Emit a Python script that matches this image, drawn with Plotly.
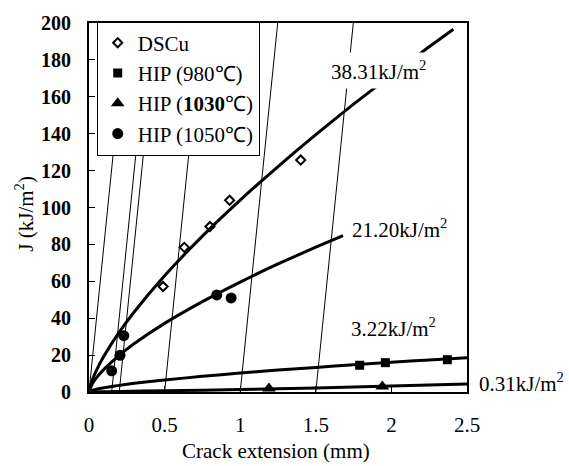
import plotly.graph_objects as go

# ---------------- data ----------------
dscu_x = [0.49, 0.63, 0.80, 0.93, 1.40]
dscu_y = [57.2, 78.4, 89.7, 103.9, 125.7]

hip980_x = [1.79, 1.96, 2.37]
hip980_y = [14.5, 15.9, 17.5]

hip1030_x = [1.19, 1.94]
hip1030_y = [1.9, 3.0]

hip1050_x = [0.15, 0.205, 0.23, 0.845, 0.94]
hip1050_y = [11.5, 19.9, 30.5, 52.6, 51.0]

# fitted R-curves
dscu_curve_x = [0, 0.02, 0.05, 0.1, 0.2, 0.3, 0.5, 0.75, 1.0, 1.25, 1.5, 1.75, 2.0, 2.25, 2.41]
dscu_curve_y = [0, 6.1, 11.9, 19.6, 32.4, 43.5, 63.0, 84.5, 104.0, 122.2, 139.5, 156.0, 171.8, 187.1, 196.6]

hip1050_curve_x = [0, 0.02, 0.05, 0.1, 0.2, 0.3, 0.5, 0.75, 1.0, 1.25, 1.5, 1.68]
hip1050_curve_y = [0, 4.2, 7.8, 12.4, 19.9, 26.3, 37.2, 49.0, 59.6, 69.4, 78.5, 84.8]

hip980_curve_x = [0, 0.02, 0.05, 0.1, 0.2, 0.3, 0.5, 0.75, 1.0, 1.25, 1.5, 1.75, 2.0, 2.25, 2.5]
hip980_curve_y = [0, 0.8, 1.5, 2.3, 3.6, 4.7, 6.5, 8.5, 10.3, 11.9, 13.3, 14.8, 16.1, 17.4, 18.6]

hip1030_curve_x = [0, 0.2, 0.5, 1.0, 1.5, 2.0, 2.5]
hip1030_curve_y = [0, 0.3, 0.7, 1.3, 2.2, 3.3, 4.4]

# blunting / offset lines: start on the axis (J=0) and end at J=200
blunt_start_x = [0, 0.15, 0.2, 0.5, 1.0, 1.5]
blunt_end_x = [0.248, 0.398, 0.448, 0.748, 1.248, 1.748]
blunt_j = [0, 200]

labels = ["38.31kJ/m<sup>2</sup>", "21.20kJ/m<sup>2</sup>", "3.22kJ/m<sup>2</sup>", "0.31kJ/m<sup>2</sup>"]
label_x = [1.913, 2.056, 2.017, 2.858]
label_y = [174.5, 88.5, 34.9, 5.3]

legend_names = ["DSCu", "HIP (980℃)", "HIP (<b>1030</b>℃)", "HIP (1050℃)"]

FONT = "Liberation Serif"

fig = go.Figure()

bx, by = [], []
for s, e in zip(blunt_start_x, blunt_end_x):
    bx += [s, e, None]
    by += [blunt_j[0], blunt_j[1], None]
fig.add_trace(go.Scatter(x=bx, y=by, mode="lines", line=dict(color="black", width=1),
                         showlegend=False, hoverinfo="skip"))

for cx, cy in [(dscu_curve_x, dscu_curve_y), (hip1050_curve_x, hip1050_curve_y),
               (hip980_curve_x, hip980_curve_y), (hip1030_curve_x, hip1030_curve_y)]:
    fig.add_trace(go.Scatter(x=cx, y=cy, mode="lines",
                             line=dict(color="black", width=3, shape="spline", smoothing=0.6),
                             showlegend=False, hoverinfo="skip"))

fig.add_trace(go.Scatter(x=dscu_x, y=dscu_y, mode="markers", name=legend_names[0],
                         marker=dict(symbol="diamond-open", size=7, color="black", line=dict(width=2, color="black"))))
fig.add_trace(go.Scatter(x=hip980_x, y=hip980_y, mode="markers", name=legend_names[1],
                         marker=dict(symbol="square", size=9, color="black")))
fig.add_trace(go.Scatter(x=hip1030_x, y=hip1030_y, mode="markers", name=legend_names[2],
                         marker=dict(symbol="triangle-up", size=12, color="black")))
fig.add_trace(go.Scatter(x=hip1050_x, y=hip1050_y, mode="markers", name=legend_names[3],
                         marker=dict(symbol="circle", size=11, color="black")))

for t, x, y in zip(labels, label_x, label_y):
    inside = x <= 2.5
    fig.add_annotation(x=x if inside else 1 + (x - 2.5) / 2.5, y=y,
                       xref="x" if inside else "paper", yref="y", text=t, showarrow=False,
                       xanchor="center", yanchor="middle",
                       font=dict(family=FONT, size=21, color="black"),
                       bgcolor="white" if inside else "rgba(0,0,0,0)", borderpad=4)

# axis titles
fig.add_annotation(x=-0.1706, y=0.482, xref="paper", yref="paper", text="J (kJ/m<sup>2</sup>)",
                   textangle=-90, showarrow=False, font=dict(family=FONT, size=21, color="black"),
                   xanchor="center", yanchor="middle")
fig.add_annotation(x=0.494, y=-0.159, xref="paper", yref="paper", text="Crack extension (mm)",
                   showarrow=False, font=dict(family=FONT, size=21, color="black"),
                   xanchor="center", yanchor="middle")

fig.update_xaxes(range=[0, 2.5], dtick=0.5, tick0=0, showgrid=False, zeroline=False,
                 showline=True, linecolor="black", linewidth=2, mirror=True,
                 ticks="inside", ticklen=6, tickcolor="black", tickwidth=1,
                 ticklabelstandoff=13,
                 tickfont=dict(family=FONT, size=21, color="black"))
fig.update_yaxes(range=[0, 200], dtick=20, tick0=0, showgrid=False, zeroline=False,
                 showline=True, linecolor="black", linewidth=2, mirror=True,
                 ticks="inside", ticklen=6, tickcolor="black", tickwidth=1,
                 ticklabelstandoff=12,
                 tickfont=dict(family=FONT, size=20, color="black", weight="bold"))

fig.update_layout(
    width=569, height=466,
    margin=dict(l=89, r=102, t=15, b=74),
    plot_bgcolor="white", paper_bgcolor="white",
    showlegend=True,
    legend=dict(x=0.0204, y=1.004, xanchor="left", yanchor="top",
                bgcolor="white", bordercolor="black", borderwidth=1,
                font=dict(family=FONT, size=21, color="black"),
                tracegroupgap=0, itemwidth=30),
)

fig.write_html("out.html")
